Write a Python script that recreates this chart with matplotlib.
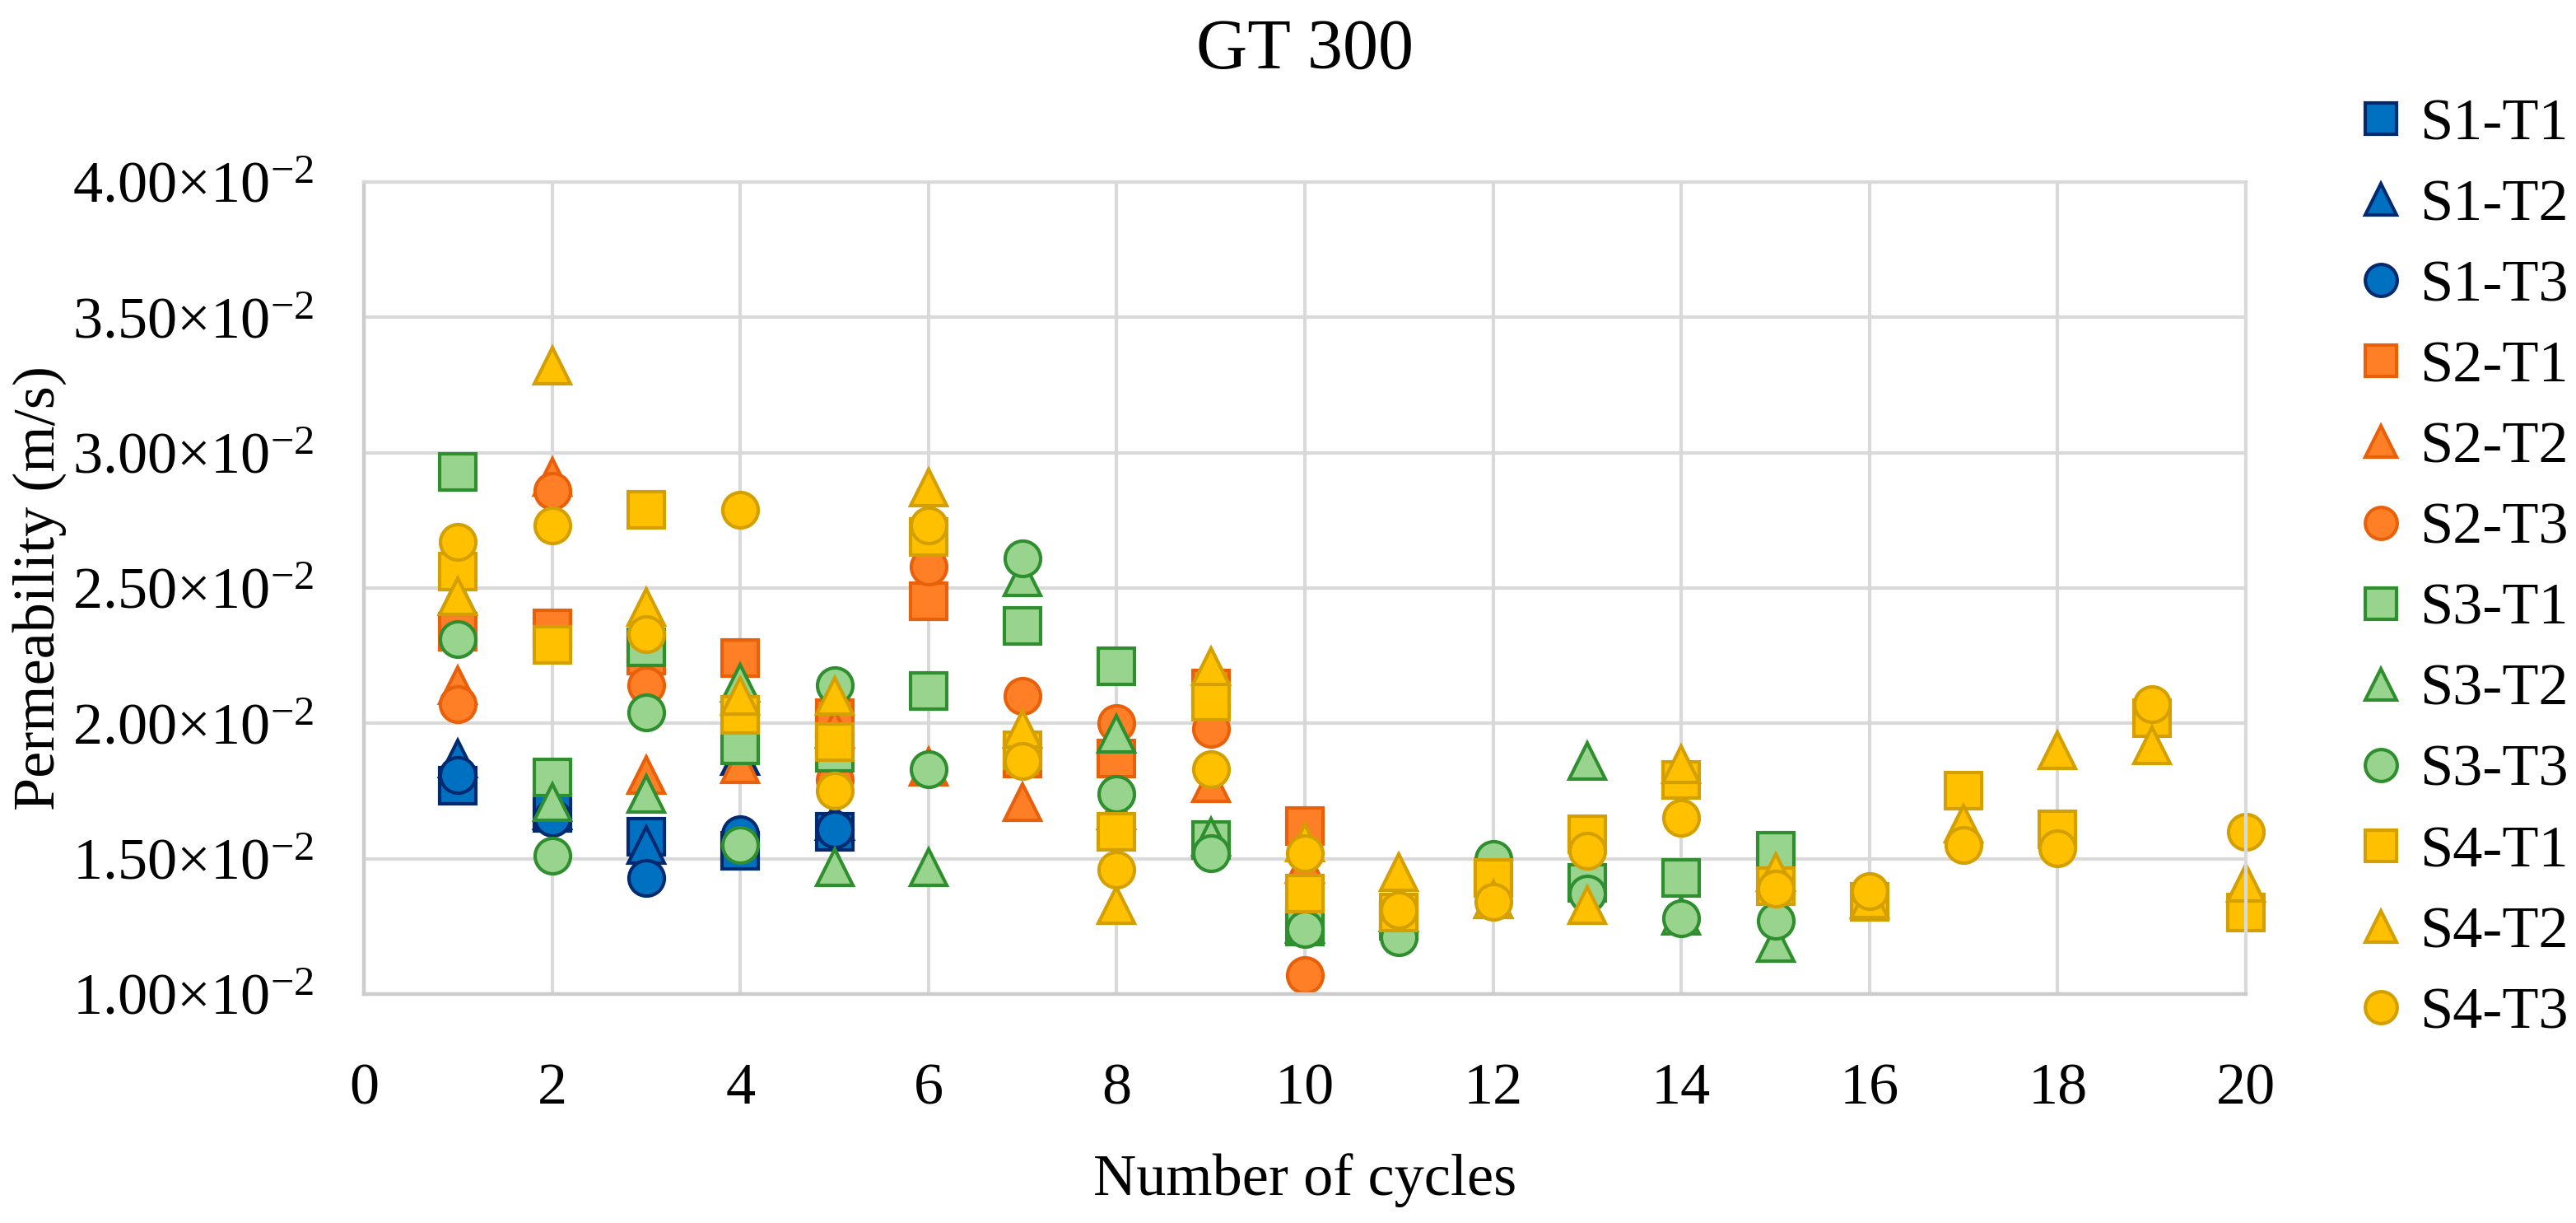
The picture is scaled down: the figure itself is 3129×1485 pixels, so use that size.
import numpy as np
import matplotlib
matplotlib.use("Agg")
import matplotlib.pyplot as plt
import matplotlib.ticker as ticker

plt.rcParams.update({'font.family': ['Liberation Serif', 'DejaVu Serif'],
                     'mathtext.fontset': 'custom',
                     'mathtext.rm': 'Liberation Serif',
                     'mathtext.default': 'regular',
                     'font.size': 26})

cycles = list(range(1, 21))

# permeability, in units of 1e-2 m/s
s1_t1 = [1.77, 1.67, 1.58, 1.53, 1.60]
s1_t2 = [1.87, 1.68, 1.55, 1.88, 1.64]
s1_t3 = [1.81, 1.65, 1.43, 1.59, 1.61]
s2_t1 = [2.34, 2.35, 2.25, 2.24, 2.02, 2.45, 1.87, 1.87, 2.13, 1.62]
s2_t2 = [2.14, 2.91, 1.81, 1.85, 1.98, 1.84, 1.71, 1.68, 1.78, 1.48]
s2_t3 = [2.07, 2.86, 2.14, 2.00, 1.79, 2.58, 2.10, 2.00, 1.98, 1.07]
s3_t1 = [2.93, 1.80, 2.28, 1.92, 1.89, 2.12, 2.36, 2.21, 1.57, 1.25,
         1.27, 1.43, 1.41, 1.43, 1.53]
s3_t2 = [2.47, 1.71, 1.74, 2.15, 1.47, 1.47, 2.54, 1.96, 1.58, 1.26,
         1.30, 1.35, 1.86, 1.29, 1.19]
s3_t3 = [2.31, 1.51, 2.04, 1.55, 2.14, 1.83, 2.61, 1.74, 1.52, 1.24,
         1.21, 1.50, 1.37, 1.28, 1.27]
s4_t1 = [2.56, 2.29, 2.79, 2.03, 1.93, 2.69, 1.90, 1.60, 2.08, 1.37,
         1.30, 1.43, 1.59, 1.79, 1.40, 1.34, 1.75, 1.61, 2.02, 1.30]
s4_t2 = [2.47, 3.32, 2.43, 2.10, 2.10, 2.87, 1.98, 1.33, 2.21, 1.56,
         1.45, 1.35, 1.33, 1.85, 1.45, 1.35, 1.63, 1.90, 1.92, 1.41]
s4_t3 = [2.67, 2.73, 2.33, 2.79, 1.75, 2.73, 1.86, 1.46, 1.83, 1.52,
         1.31, 1.34, 1.53, 1.65, 1.39, 1.38, 1.55, 1.54, 2.07, 1.60]

labels = ['S1-T1', 'S1-T2', 'S1-T3', 'S2-T1', 'S2-T2', 'S2-T3',
          'S3-T1', 'S3-T2', 'S3-T3', 'S4-T1', 'S4-T2', 'S4-T3']
series = [s1_t1, s1_t2, s1_t3, s2_t1, s2_t2, s2_t3,
          s3_t1, s3_t2, s3_t3, s4_t1, s4_t2, s4_t3]

markers = ['s', '^', 'o'] * 4
faces = ['#0070c0'] * 3 + ['#ff7f27'] * 3 + ['#98d48d'] * 3 + ['#ffc000'] * 3
edges = ['#002a70'] * 3 + ['#e8600a'] * 3 + ['#2f8f2f'] * 3 + ['#d4a000'] * 3

fig = plt.figure(figsize=(3129 / 200, 1485 / 200), dpi=200)
ax = fig.add_axes([442 / 3129, 1 - 1207 / 1485, (2728 - 442) / 3129, (1207 - 221) / 1485])

for vals, lab, m, fc, ec in zip(series, labels, markers, faces, edges):
  y = np.array(vals) * 1e-2
  ax.plot(cycles[:len(vals)], y, linestyle='none', marker=m, markersize=15.5,
          markerfacecolor=fc, markeredgecolor=ec, markeredgewidth=1.5, label=lab,
          clip_on=False)

ax.set_xlim(0, 20)
ax.set_ylim(0.01, 0.04)
ax.xaxis.set_major_locator(ticker.MultipleLocator(2))
ax.yaxis.set_major_locator(ticker.MultipleLocator(0.005))
ax.yaxis.set_major_formatter(ticker.FuncFormatter(
  lambda v, p: r'$%.2f{\times}10^{-2}$' % (v * 100)))
ax.tick_params(axis='both', length=0, labelsize=26)
ax.tick_params(axis='x', pad=30)
ax.tick_params(axis='y', pad=22)

ax.set_axisbelow(True)
ax.grid(True, color='#d9d9d9', linewidth=1.5)
for side in ['top', 'right']:
  ax.spines[side].set_color('#d9d9d9')
  ax.spines[side].set_linewidth(1.5)
for side in ['left', 'bottom']:
  ax.spines[side].set_color('#cccccc')
  ax.spines[side].set_linewidth(1.6)

fig.text(1585 / 3129, 1 - 62 / 1485, 'GT 300', ha='center', va='center', fontsize=31)
fig.text(1585 / 3129, 1 - 1433 / 1485, 'Number of cycles', ha='center', va='center', fontsize=26)
fig.text(48 / 3129, 1 - 714 / 1485, 'Permeability (m/s)', ha='center', va='center',
         rotation=90, fontsize=26)

fig.legend(loc='upper left', bbox_to_anchor=(2856 / 3129, 1 - 119 / 1485), frameon=False,
           borderpad=0, handlelength=1.0, handletextpad=0.15, labelspacing=0.45,
           markerscale=0.9, fontsize=26, borderaxespad=0)

fig.savefig('out.png', dpi=200)
